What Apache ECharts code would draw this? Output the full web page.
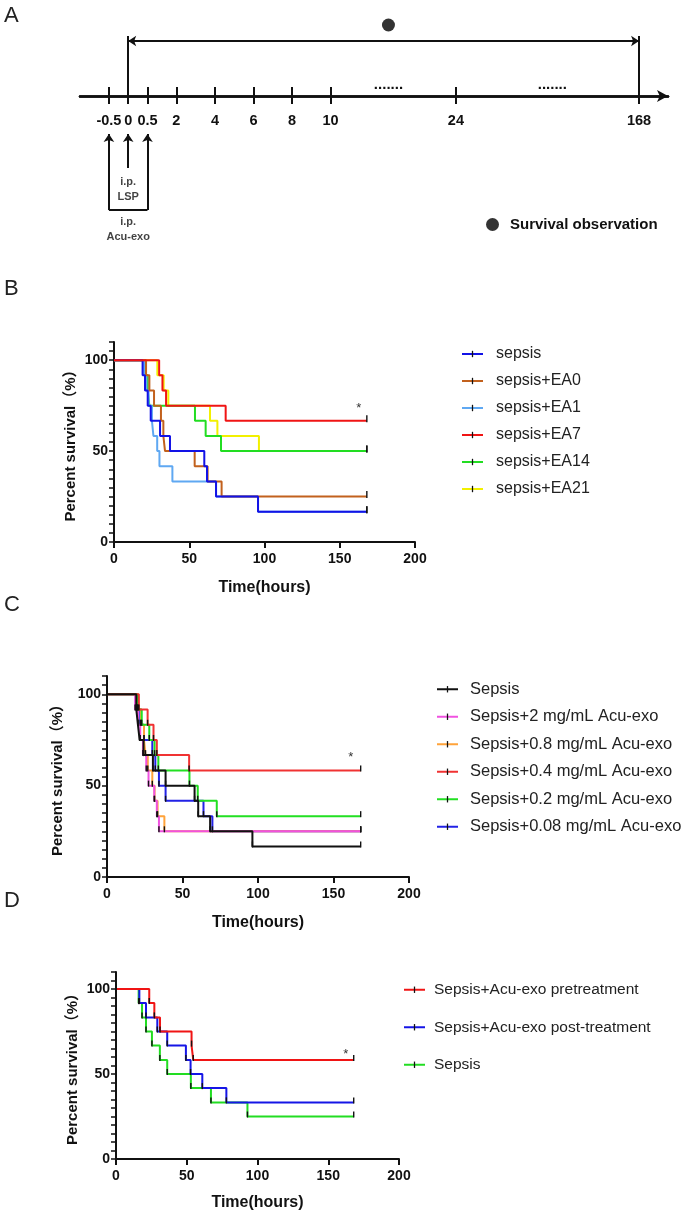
<!DOCTYPE html>
<html>
<head>
<meta charset="utf-8">
<script src="https://cdn.jsdelivr.net/npm/echarts@6/dist/echarts.min.js"></script>
<style>
  html, body { margin: 0; padding: 0; background: #fff; }
  #main { width: 685px; height: 1213px; }
</style>
</head>
<body>
<div id="main"></div>
<script>
// ---- data ----
// panel A: timeline tick labels (blank = spacing on the schematic axis)
const timelineLabels = ['', '', '', '-0.5', '', '0', '', '0.5', '', '', '2', '', '', '', '4', '', '', '', '6',
  '', '', '', '8', '', '', '', '10', '', '', '', '', '', '', '', '', '', '', '', '', '24', '', '', '', '', '',
  '', '', '', '', '', '', '', '', '', '', '', '', '', '168', '', '', ''];
const timelineGaps = timelineLabels.map((l, i) => (i === 32 || i === 49) ? '.......' : '');

// panel B: [hours, % survival]
const bSepsis = [[0, 100], [19, 91.7], [20.6, 83.3], [22.4, 75], [24.4, 66.7], [30.6, 58.3], [37.2, 50], [60, 41.7], [61.8, 33.3], [67.8, 25], [95.7, 16.7], [168, 16.7]];
const bEA0 = [[0, 100], [21.3, 91.7], [23.5, 83.3], [26.6, 75], [31.2, 66.7], [32.8, 58.3], [33.9, 50], [53.6, 41.7], [62.2, 33.3], [71.5, 25], [168, 25]];
const bEA1 = [[0, 100], [20, 91.7], [21.5, 83.3], [23, 75], [25.2, 66.7], [26.2, 58.3], [28.7, 50], [30.2, 41.7], [38.8, 33.3], [67.8, 25], [95.7, 16.7], [168, 16.7]];
const bEA7 = [[0, 100], [30, 91.7], [32.2, 83.3], [34.6, 75], [74.2, 66.7], [168, 66.7]];
const bEA14 = [[0, 100], [21, 91.7], [22.4, 83.3], [23.5, 75], [53.8, 66.7], [60.9, 58.3], [71.1, 50], [168, 50]];
const bEA21 = [[0, 100], [28.8, 91.7], [33, 83.3], [36.1, 75], [63.8, 66.7], [68.7, 58.3], [96.3, 50], [168, 50]];

// panel C
const cSepsis = [[0, 100], [19.4, 91.7], [20.5, 83.3], [21.6, 75], [24.2, 66.7], [30.4, 58.3], [38.8, 50], [58, 41.7], [60.4, 33.3], [68.3, 25], [96.3, 16.7], [168, 16.7]];
const c2mg = [[0, 100], [18.6, 91.7], [20.5, 83.3], [22, 75], [23.8, 66.7], [26, 58.3], [27.5, 50], [31.3, 41.7], [33, 33.3], [34.4, 25], [168, 25]];
const c08mg = [[0, 100], [20, 91.7], [22.5, 83.3], [24.5, 75], [25.5, 66.7], [27, 58.3], [30, 50], [31.5, 41.7], [33.5, 33.3], [38, 25], [168, 25]];
const c04mg = [[0, 100], [21.1, 91.7], [26.9, 83.3], [30.8, 75], [33, 66.7], [54.4, 58.3], [168, 58.3]];
const c02mg = [[0, 100], [20.5, 91.7], [23, 83.3], [28, 75], [31.5, 66.7], [34, 58.3], [54.6, 50], [60.1, 41.7], [72.7, 33.3], [168, 33.3]];
const c008mg = [[0, 100], [20, 91.7], [22, 83.3], [24.5, 75], [30, 66.7], [32, 58.3], [34.4, 50], [38.8, 41.7], [63.9, 33.3], [69.8, 25], [168, 25]];

// panel D
const dPre = [[0, 100], [23.5, 91.7], [27.1, 83.3], [31.1, 75], [53.4, 66.7], [54.6, 58.3], [168, 58.3]];
const dPost = [[0, 100], [16.5, 91.7], [21.2, 83.3], [29.2, 75], [36.2, 66.7], [49.4, 58.3], [52.7, 50], [61, 41.7], [78, 33.3], [168, 33.3]];
const dSepsis = [[0, 100], [16, 91.7], [18.4, 83.3], [21.2, 75], [25.4, 66.7], [31, 58.3], [36.2, 50], [52.9, 41.7], [67.1, 33.3], [92.9, 25], [168, 25]];

const FONT = "'Liberation Sans', Arial, 'Noto Sans CJK SC', sans-serif";
// thin vertical tick used as the censor mark (box points keep it centred)
const TICK = 'path://M0,0M10,10M4,0H6V10H4Z';

function kmSeries(name, data, color, gi, opts) {
  opts = opts || {};
  const last = data.length - 1;
  return {
    name: name,
    type: 'line',
    xAxisIndex: gi,
    yAxisIndex: gi,
    step: 'end',
    symbol: TICK,
    symbolSize: opts.endOnly ? function (v) { return v[0] === 168 ? [7, 7] : 0; } : [7, 6],
    symbolOffset: [0, -2],
    itemStyle: { color: '#111' },
    lineStyle: { color: color, width: 2 },
    data: data.map(function (p, i) {
      if (i === last && opts.star) {
        return {
          value: p,
          label: {
            show: true, formatter: '*', position: 'top', distance: 0, offset: opts.star,
            color: '#333', fontSize: 13, fontFamily: FONT
          }
        };
      }
      return p;
    })
  };
}

function kmX(gi, nameGap) {
  return {
    type: 'value', gridIndex: gi, min: 0, max: 200, interval: 50,
    name: 'Time(hours)', nameLocation: 'middle', nameGap: nameGap,
    nameTextStyle: { color: '#111', fontSize: 16, fontWeight: 'bold', fontFamily: FONT },
    axisLine: { show: true, onZero: false, lineStyle: { color: '#111', width: 2 } },
    axisTick: { show: true, length: 6, lineStyle: { color: '#111', width: 2 } },
    axisLabel: { color: '#111', fontSize: 14, fontWeight: 'bold', fontFamily: FONT, margin: 10 },
    splitLine: { show: false }
  };
}

function kmY(gi, nameGap) {
  return {
    type: 'value', gridIndex: gi, min: 0, max: 110, interval: 5,
    name: 'Percent survival（%）', nameLocation: 'middle', nameGap: nameGap,
    nameTextStyle: { color: '#111', fontSize: 15, fontWeight: 'bold', fontFamily: FONT },
    axisLine: { show: true, onZero: false, lineStyle: { color: '#111', width: 2 } },
    axisTick: { show: true, length: 5, lineStyle: { color: '#111', width: 1.5 } },
    axisLabel: {
      color: '#111', fontSize: 14, fontWeight: 'bold', fontFamily: FONT, margin: 6,
      formatter: function (v) { return v % 50 === 0 ? String(v) : ''; }
    },
    splitLine: { show: false }
  };
}

function kmLegend(left, top, gap, pad, size, names) {
  return {
    orient: 'vertical', left: left, top: top, padding: 0,
    itemWidth: 21, itemHeight: 8, itemGap: gap,
    data: names,
    textStyle: { color: '#222', fontSize: size, fontFamily: FONT, padding: [0, 0, 0, pad] }
  };
}

const at = function (l) { return timelineLabels.indexOf(l); };
const showTick = function (i) { return timelineLabels[i] !== ''; };

const option = {
  animation: false,
  backgroundColor: '#fff',
  textStyle: { fontFamily: FONT },
  grid: [
    { left: 114, top: 342, width: 301, height: 200 },
    { left: 107, top: 676, width: 302, height: 201 },
    { left: 116, top: 972, width: 283, height: 187 },
    { left: 80, top: 16, width: 588, height: 80 },   // timeline, above the axis
    { left: 80, top: 96, width: 588, height: 150 }   // timeline, below the axis
  ],
  xAxis: [
    kmX(0, 38),
    kmX(1, 38),
    kmX(2, 36),
    {
      type: 'category', gridIndex: 3, data: timelineLabels, boundaryGap: false, position: 'bottom',
      axisLine: { onZero: false, symbol: ['none', 'arrow'], symbolSize: [9, 11], lineStyle: { color: '#111', width: 2.5 } },
      axisTick: { interval: showTick, length: 8, lineStyle: { color: '#111', width: 2 } },
      axisLabel: { interval: showTick, margin: 18, color: '#111', fontSize: 14.5, fontWeight: 'bold', fontFamily: FONT },
      splitLine: { show: false }
    },
    {
      type: 'category', gridIndex: 3, data: timelineGaps, boundaryGap: false, position: 'bottom',
      axisLine: { onZero: false, lineStyle: { color: '#111', width: 2.5 } },
      axisTick: { inside: true, interval: showTick, length: 9, lineStyle: { color: '#111', width: 2 } },
      axisLabel: {
        inside: true, interval: function (i) { return timelineGaps[i] !== ''; },
        margin: 4, color: '#111', fontSize: 15, fontWeight: 'bold', fontFamily: FONT
      },
      splitLine: { show: false }
    },
    { type: 'category', gridIndex: 4, data: timelineLabels, boundaryGap: false, show: false }
  ],
  yAxis: [
    kmY(0, 36),
    kmY(1, 42),
    kmY(2, 36),
    { type: 'value', gridIndex: 3, min: 0, max: 80, show: false },
    { type: 'value', gridIndex: 4, min: -150, max: 0, show: false }
  ],
  legend: [
    kmLegend(461, 346, 11, 8, 16, ['sepsis', 'sepsis+EA0', 'sepsis+EA1', 'sepsis+EA7', 'sepsis+EA14', 'sepsis+EA21']),
    kmLegend(436, 681, 11, 7, 16.5, ['Sepsis', 'Sepsis+2 mg/mL Acu-exo', 'Sepsis+0.8 mg/mL Acu-exo',
      'Sepsis+0.4 mg/mL Acu-exo', 'Sepsis+0.2 mg/mL Acu-exo', 'Sepsis+0.08 mg/mL Acu-exo']),
    kmLegend(403, 982, 22, 4, 15.5, ['Sepsis+Acu-exo pretreatment', 'Sepsis+Acu-exo post-treatment', 'Sepsis ']),
    {
      left: 486, top: 217, padding: 0, itemWidth: 13, itemHeight: 15, icon: 'circle',
      data: ['Survival observation'],
      textStyle: { color: '#111', fontSize: 15, fontWeight: 'bold', fontFamily: FONT, padding: [0, 0, 0, 6] }
    }
  ],
  graphic: [
    { type: 'text', left: 4, top: 5, style: { text: 'A', fontSize: 22, fill: '#222', fontFamily: FONT } },
    { type: 'text', left: 4, top: 278, style: { text: 'B', fontSize: 22, fill: '#222', fontFamily: FONT } },
    { type: 'text', left: 4, top: 594, style: { text: 'C', fontSize: 22, fill: '#222', fontFamily: FONT } },
    { type: 'text', left: 4, top: 890, style: { text: 'D', fontSize: 22, fill: '#222', fontFamily: FONT } }
  ],
  series: [
    // panel B
    kmSeries('sepsis+EA21', bEA21, '#f2f000', 0, { endOnly: true }),
    kmSeries('sepsis+EA14', bEA14, '#22dd22', 0, { endOnly: true }),
    kmSeries('sepsis+EA1', bEA1, '#5fa8f2', 0, { endOnly: true }),
    kmSeries('sepsis+EA0', bEA0, '#c2611d', 0, { endOnly: true }),
    kmSeries('sepsis', bSepsis, '#1212e6', 0, { endOnly: true }),
    kmSeries('sepsis+EA7', bEA7, '#f01414', 0, { endOnly: true, star: [-8, 0] }),
    // panel C
    kmSeries('Sepsis+0.08 mg/mL Acu-exo', c008mg, '#2222e6', 1),
    kmSeries('Sepsis+0.8 mg/mL Acu-exo', c08mg, '#ffa33a', 1),
    kmSeries('Sepsis+2 mg/mL Acu-exo', c2mg, '#f052e0', 1),
    kmSeries('Sepsis+0.2 mg/mL Acu-exo', c02mg, '#22e022', 1),
    kmSeries('Sepsis+0.4 mg/mL Acu-exo', c04mg, '#f03232', 1, { star: [-10, -2] }),
    kmSeries('Sepsis', cSepsis, '#111111', 1),
    // panel D
    kmSeries('Sepsis ', dSepsis, '#22dd22', 2),
    kmSeries('Sepsis+Acu-exo post-treatment', dPost, '#1515e6', 2),
    kmSeries('Sepsis+Acu-exo pretreatment', dPre, '#f01414', 2, { star: [-8, 6] }),
    // panel A schematic, above the axis
    {
      type: 'lines', coordinateSystem: 'cartesian2d', xAxisIndex: 3, yAxisIndex: 3, silent: true,
      lineStyle: { color: '#111', width: 2, opacity: 1, curveness: 0 },
      data: [
        { coords: [[at('0'), 0], [at('0'), 60]] },
        { coords: [[at('168'), 0], [at('168'), 60]] }
      ]
    },
    {
      type: 'lines', coordinateSystem: 'cartesian2d', xAxisIndex: 3, yAxisIndex: 3, silent: true,
      symbol: ['arrow', 'arrow'], symbolSize: 8,
      lineStyle: { color: '#111', width: 2, opacity: 1, curveness: 0 },
      data: [{ coords: [[at('0'), 55], [at('168'), 55]] }]
    },
    {
      name: 'Survival observation', type: 'scatter', xAxisIndex: 3, yAxisIndex: 3,
      symbol: 'circle', symbolSize: 13, itemStyle: { color: '#000' },
      data: [[32, 71]]
    },
    // panel A schematic, below the axis
    {
      type: 'lines', coordinateSystem: 'cartesian2d', xAxisIndex: 5, yAxisIndex: 4, silent: true,
      lineStyle: { color: '#111', width: 2, opacity: 1, curveness: 0 },
      data: [{ coords: [[at('-0.5'), -114], [at('0.5'), -114]] }]
    },
    {
      type: 'lines', coordinateSystem: 'cartesian2d', xAxisIndex: 5, yAxisIndex: 4, silent: true,
      symbol: ['none', 'arrow'], symbolSize: 8,
      lineStyle: { color: '#111', width: 2, opacity: 1, curveness: 0 },
      data: [
        { coords: [[at('-0.5'), -114], [at('-0.5'), -38]] },
        { coords: [[at('0.5'), -114], [at('0.5'), -38]] },
        { coords: [[at('0'), -72], [at('0'), -38]] }
      ]
    },
    {
      type: 'scatter', xAxisIndex: 5, yAxisIndex: 4, symbolSize: 0, silent: true,
      data: [[at('0'), -93, 'i.p.\nLSP'], [at('0'), -133, 'i.p.\nAcu-exo']],
      label: {
        show: true, position: 'inside', formatter: function (p) { return p.value[2]; },
        color: '#111', fontSize: 11, fontWeight: 'bold', lineHeight: 15, fontFamily: FONT
      }
    }
  ]
};

const chart = echarts.init(document.getElementById('main'));
chart.setOption(option);
</script>
</body>
</html>
